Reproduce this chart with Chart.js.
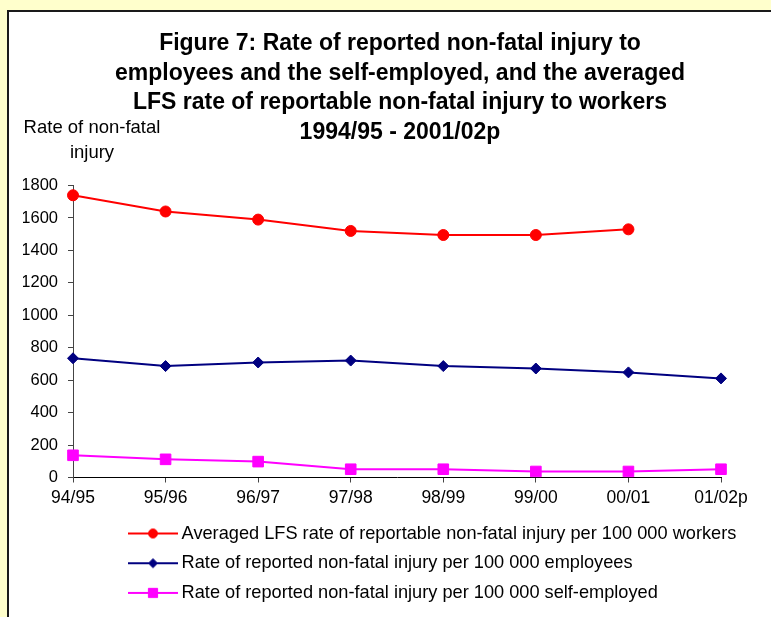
<!DOCTYPE html>
<html><head><meta charset="utf-8">
<script src="https://cdn.jsdelivr.net/npm/chart.js@4"></script>
<style>
html,body{margin:0;padding:0;background:#FFFFCC;width:771px;height:617px;overflow:hidden;}
#frame{position:absolute;left:7px;top:10px;width:790px;height:640px;background:#fff;border-left:2px solid #1a1a1a;border-top:2px solid #1a1a1a;}
#c{position:absolute;left:0;top:0;width:762px;height:605px;}
</style></head><body>
<div id="frame"><canvas id="c" width="762" height="605"></canvas></div>
<script>
const categories = ['94/95','95/96','96/97','97/98','98/99','99/00','00/01','01/02p'];
const lfsWorkers = [1740,1640,1590,1520,1495,1495,1530,null];
const employees = [735,687,709,721,687,672,648,611];
const selfEmployed = [137,112,98,51,51,37,37,51];
const seriesNames = [
  'Averaged LFS rate of reportable non-fatal injury per 100 000 workers',
  'Rate of reported non-fatal injury per 100 000 employees',
  'Rate of reported non-fatal injury per 100 000 self-employed'
];
const titleLines = [
  'Figure 7: Rate of reported non-fatal injury to',
  'employees and the self-employed, and the averaged',
  'LFS rate of reportable non-fatal injury to workers',
  '1994/95 - 2001/02p'
];
const axisTitleLines = ['Rate of non-fatal','injury'];
const yMin = 0, yMax = 1800, yStep = 200;

const FONT = "'Liberation Sans', Arial, sans-serif";
const colors = ['#FF0000','#000080','#FF00FF'];
const styles = ['circle','rectRot','rect'];
const radii = [5.5,5.5,7.5];

function legendImage(color, style, r){
  const c = document.createElement('canvas');
  c.width = 50; c.height = 16;
  const x = c.getContext('2d');
  x.strokeStyle = color; x.fillStyle = color; x.lineWidth = 2;
  x.beginPath(); x.moveTo(0,8); x.lineTo(50,8); x.stroke();
  x.lineWidth = 1;
  Chart.helpers.drawPoint(x, {pointStyle: style, radius: r - 1, borderWidth: 1, rotation: 0}, 25, 8);
  return c;
}

const datasets = [lfsWorkers, employees, selfEmployed].map((d,i)=>({
  label: seriesNames[i],
  data: d,
  borderColor: colors[i],
  backgroundColor: colors[i],
  pointBackgroundColor: colors[i],
  pointBorderColor: colors[i],
  pointStyle: styles[i],
  pointRadius: radii[i],
  pointBorderWidth: 1,
  borderWidth: 2,
  tension: 0,
  spanGaps: false
}));

const axisTitlePlugin = {
  id: 'axisTitle',
  afterDraw(chart){
    const ctx = chart.ctx;
    ctx.save();
    ctx.fillStyle = '#000';
    ctx.font = '18.5px ' + FONT;
    ctx.textAlign = 'center';
    ctx.textBaseline = 'middle';
    axisTitleLines.forEach((t,i)=>ctx.fillText(t, 83, 116 + i*25));
    ctx.restore();
  }
};
const layoutShift = {
  id: 'layoutShift',
  afterLayout(chart){
    if (chart.legend) { chart.legend.left = 113; chart.legend.right = 762; chart.legend.width = 762 - 113; }
    if (chart.titleBlock) { chart.titleBlock.left += 3; chart.titleBlock.right += 3; }
  }
};

new Chart(document.getElementById('c'), {
  type: 'line',
  data: { labels: categories, datasets },
  plugins: [axisTitlePlugin, layoutShift],
  options: {
    responsive: false,
    animation: false,
    devicePixelRatio: 1,
    layout: { padding: { left: 14, right: 50, top: 0, bottom: 5 } },
    plugins: {
      title: {
        display: true,
        text: titleLines,
        fullSize: false,
        color: '#000',
        font: { family: FONT, size: 23, weight: 'bold', lineHeight: 1.283 },
        padding: { top: 17, bottom: 38.5 }
      },
      legend: {
        display: true,
        position: 'bottom',
        align: 'start',
        labels: {
          usePointStyle: true,
          pointStyleWidth: 39,
          padding: 11.5,
          color: '#000',
          font: { family: FONT, size: 18.2 },
          generateLabels(chart){
            return chart.data.datasets.map((ds,i)=>({
              text: ds.label,
              pointStyle: legendImage(colors[i], styles[i], radii[i]),
              fillStyle: colors[i], strokeStyle: colors[i], lineWidth: 0,
              fontColor: '#000', hidden: false, datasetIndex: i
            }));
          }
        }
      },
      tooltip: { enabled: false }
    },
    scales: {
      x: {
        offset: false,
        grid: { drawOnChartArea: false, tickLength: 5, tickColor: '#444' },
        border: { color: '#000', width: 1 },
        ticks: { color: '#000', font: { family: FONT, size: 17.5 }, padding: 5.5, maxRotation: 0, autoSkip: false },
        afterFit(s){ s.height = 35.4; }
      },
      y: {
        min: yMin, max: yMax,
        grid: { drawOnChartArea: false, tickLength: 5, tickColor: '#444' },
        border: { color: '#444', width: 1 },
        ticks: { stepSize: yStep, color: '#000', font: { family: FONT, size: 16.5 }, padding: 10,
                 callback: v => String(v) },
        afterFit(s){ s.width = 50; }
      }
    }
  }
});
</script>
</body></html>
